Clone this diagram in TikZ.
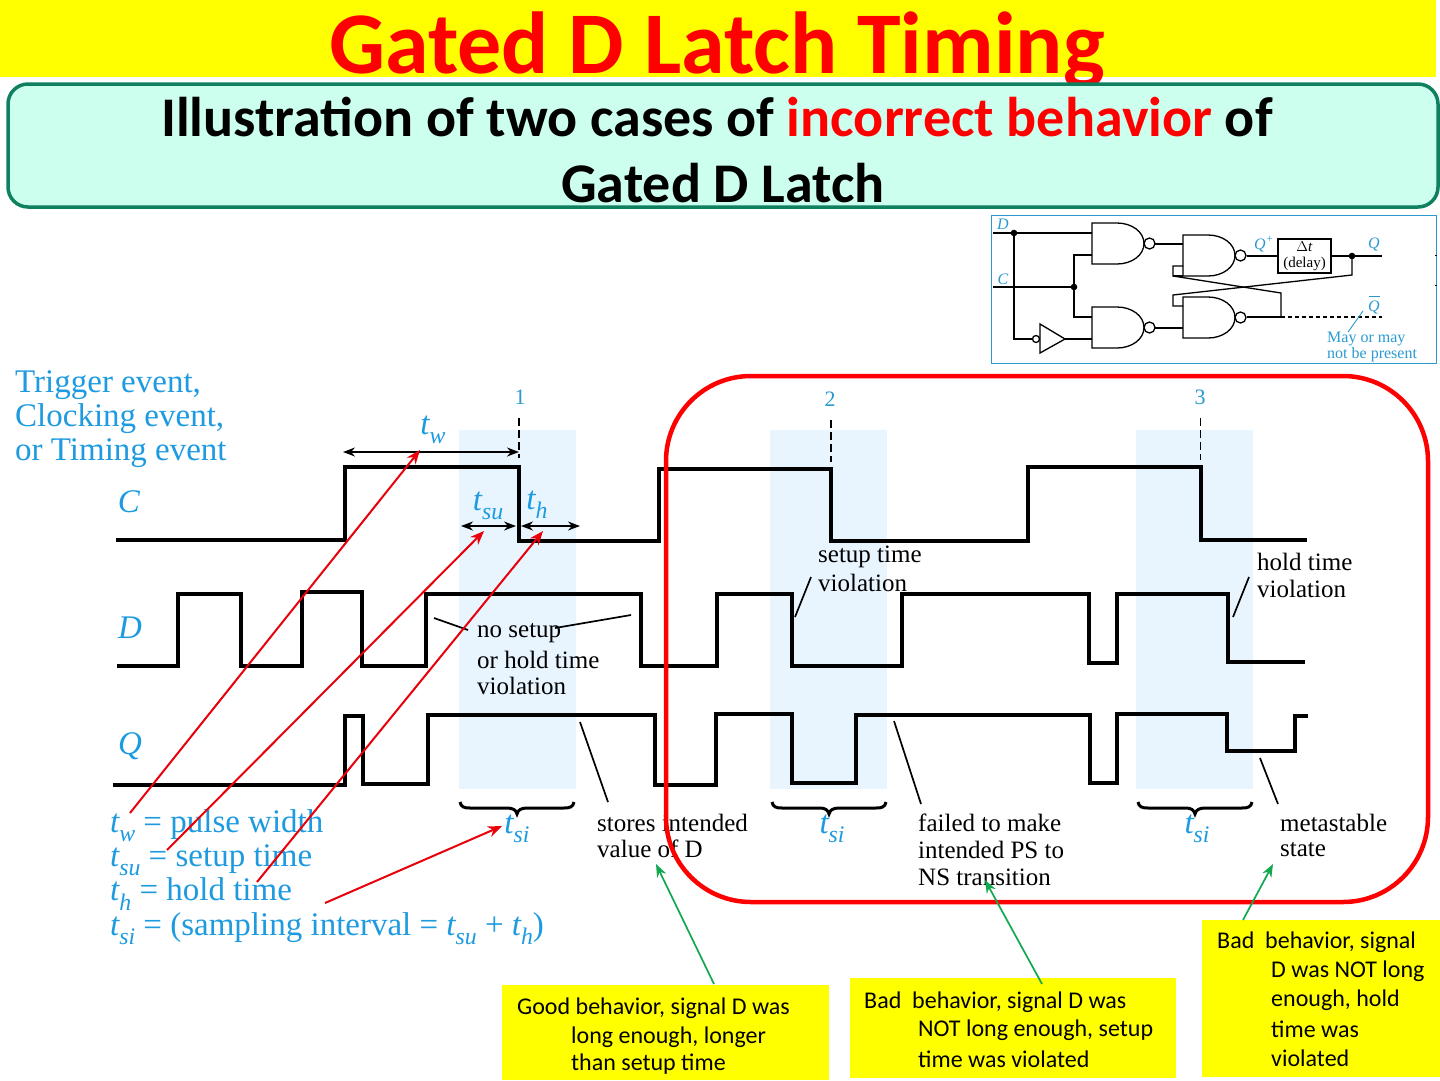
\documentclass[tikz,border=0pt]{standalone}
\usepackage{fontspec}
\setmainfont{Liberation Serif}
\newfontfamily\calib{Carlito}
\usetikzlibrary{arrows.meta}
\definecolor{bandblue}{HTML}{E8F4FE}
\definecolor{inkblue}{HTML}{1E9BE0}
\definecolor{circblue}{HTML}{2A9AD0}
\definecolor{mint}{HTML}{CCFFEE}
\definecolor{mintedge}{HTML}{0F8060}
\definecolor{redline}{HTML}{E8000B}
\definecolor{greenline}{HTML}{12A84F}
\definecolor{pureyellow}{RGB}{255,255,0}
\definecolor{purered}{RGB}{255,0,0}
\newcommand{\fs}[1]{\fontsize{#1}{#1}\selectfont}
\newcommand{\tvar}[1]{\textit{t}\kern-0.02em\raisebox{-0.28em}{\fontsize{0.72em}{0.72em}\selectfont\textit{#1}}}
\tikzset{
  x=1pt,y=-1pt,
  wave/.style={line width=3.4pt,line join=miter,black},
  band/.style={fill=bandblue,draw=none},
  leader/.style={line width=1.7pt,black},
  dimarrow/.style={line width=1.4pt,{Stealth[length=12pt,width=9pt]}-{Stealth[length=12pt,width=9pt]}},
  redarrow/.style={line width=2pt,redline,-{Stealth[length=14pt,width=11pt]}},
  greenarrow/.style={line width=1.7pt,greenline,-{Stealth[length=13pt,width=10pt]}},
  brace/.style={line width=3pt,black},
  blacktext/.style={anchor=west,inner sep=0pt,text=black,font=\fs{25}},
  bluetext/.style={anchor=west,inner sep=0pt,text=inkblue,font=\fs{33}},
  bluemid/.style={anchor=center,inner sep=0pt,text=inkblue,font=\fs{33}},
  numtext/.style={anchor=center,inner sep=0pt,text=circblue,font=\fs{22}},
  yellowbox/.style={fill=pureyellow,draw=none},
  notetext/.style={anchor=west,inner sep=0pt,text=black,font=\calib\fs{24}},
  circwire/.style={line width=1.3pt,black},
  circlabel/.style={inner sep=0pt,text=circblue,font=\fs{16}},
  nandg/.pic={
    \draw[circwire] (0,0)--(25,0) .. controls (40,0) and (52,9) .. (52,20.5) .. controls (52,32) and (40,41) .. (25,41) -- (0,41) -- cycle;
    \draw[circwire] (57.5,20.5) circle[radius=5.5pt];
  }
}
\begin{document}
\begin{tikzpicture}
\useasboundingbox (0,0) rectangle (1440,1080);
\fill[white] (0,0) rectangle (1440,1080);
% header
\fill[pureyellow] (0,0) rectangle (1436,77);
\node[anchor=center,inner sep=0pt,text=purered,font=\calib\bfseries\fs{88}] (title) at (717,50) {Gated D Latch Timing};
\draw[mintedge,line width=3.5pt,fill=mint,rounded corners=20pt] (8,84) rectangle (1438,207);
\node[anchor=center,inner sep=0pt,font=\calib\bfseries\fs{56}] (sub1) at (717,117) {Illustration of two cases of \textcolor{purered}{incorrect behavior} of};
\node[anchor=center,inner sep=0pt,font=\calib\bfseries\fs{56}] (sub2) at (723,183) {Gated D Latch};
% circuit
\draw[circblue,line width=0.9pt] (991,215) rectangle (1436,363);
\pic (g1) at (1092,223) {nandg};
\pic (g2) at (1183,235) {nandg};
\pic (g3) at (1092,307) {nandg};
\pic (g4) at (1183,297) {nandg};
\draw[circwire] (993,233)--(1092,233);
\draw[circwire] (1014,233)--(1014,339)--(1032.5,339);
\draw[circwire] (1036,339) circle[radius=3.5pt];
\draw[circwire] (1040,324)--(1065,339)--(1040,353)--cycle;
\draw[circwire] (1065,339)--(1092,339);
\draw[circwire] (993,287)--(1074,287);
\draw[circwire] (1092,255)--(1074,255)--(1074,317)--(1092,317);
\draw[circwire] (1155,244)--(1183,244);
\draw[circwire] (1155,328)--(1183,328);
\draw[circwire] (1247,256)--(1278,256);
\node[draw=black,line width=1.3pt,minimum width=53pt,minimum height=34pt,inner sep=0pt,align=center,font=\fs{15},anchor=center] (delay) at (1304.5,256) {$\Delta$\textit{t}\\[1pt](delay)};
\draw[circwire] (1331,256)--(1382,256);
\draw[circwire] (1352,256)--(1352,275)--(1173,295)--(1173,306)--(1183,306);
\draw[circwire] (1183,266)--(1173,266)--(1173,276)--(1281,293)--(1281,317);
\draw[circwire] (1173,276)--(1183,276);
\draw[circwire] (1247,317)--(1281,317);
\draw[circwire,dashed,dash pattern=on 4pt off 3pt] (1281,317)--(1382,317);
\fill (1014,233) circle[radius=3.3pt];
\fill (1074,287) circle[radius=3.3pt];
\fill (1352,256) circle[radius=3.3pt];
\draw[circblue,line width=0.9pt] (1363,311)--(1348,332);
\draw[black,line width=0.8pt] (1435,255)--(1437,255) (1435,285)--(1437,285);
\node[circlabel,font=\fs{16}\itshape] (cD) at (1003,224) {D};
\node[circlabel,font=\fs{16}\itshape] (cC) at (1003,279) {C};
\node[circlabel,font=\fs{16}\itshape] (cQp) at (1264,244) {Q\textsuperscript{+}};
\node[circlabel,font=\fs{16}\itshape] (cQ) at (1374,244) {Q};
\node[circlabel,font=\fs{16}\itshape] (cQb) at (1374,307) {Q};
\draw[circblue,line width=0.7pt] (1369,296)--(1380,296);
\node[circlabel,anchor=west] (may1) at (1327,339) {May or may};
\node[circlabel,anchor=west] (may2) at (1327,355) {not be present};
% bands
\fill[band] (459,430) rectangle (576,789);
\fill[band] (770,430) rectangle (887,789);
\fill[band] (1136,430) rectangle (1253,789);
% waves
\draw[wave] (116,540)-|(345,467)-|(519,541)-|(659,469)-|(831,541)-|(1028,467)-|(1201,540)--(1307,540);
\draw[wave] (117,666)-|(178,594)-|(241,666)-|(302,592)-|(362,666)-|(426,594)-|(641,666)-|(717,594)-|(792,666)-|(902,594)-|(1089,663)-|(1117,594)-|(1228,662)--(1305,662);
\draw[wave] (113,785)-|(345,716)-|(363,784)-|(428,715)-|(655,785)-|(716,714)-|(792,783)-|(856,715)-|(1090,783)-|(1117,714)-|(1227,751)-|(1295,716)--(1308,716);
% event labels
\node[bluetext] (ev1) at (15,385) {Trigger event,};
\node[bluetext] (ev2) at (15,419) {Clocking event,};
\node[bluetext] (ev3) at (15,453) {or Timing event};
\node[numtext] (n1) at (520,397) {1};
\node[numtext] (n2) at (830,399) {2};
\node[numtext] (n3) at (1200,397) {3};
\draw[black,line width=1.2pt,dashed,dash pattern=on 8pt off 4pt] (519,418)--(519,458);
\draw[black,line width=1.4pt,dashed,dash pattern=on 8pt off 4pt] (831,420)--(831,462);
\draw[black,line width=0.8pt,dashed,dash pattern=on 8pt off 4pt] (1200,418)--(1200,460);
\draw[dimarrow] (343,452)--(519,452);
\draw[dimarrow] (461,526)--(516,526);
\draw[dimarrow] (521,526)--(580,526);
\node[bluemid] (tw) at (433,430) {\tvar{w}};
\node[bluemid] (tsu) at (488,506) {\tvar{su}};
\node[bluemid] (th) at (537,505) {\tvar{h}};
\node[bluemid,font=\fs{33}\itshape] (lC) at (129,502) {C};
\node[bluemid,font=\fs{33}\itshape] (lD) at (130,628) {D};
\node[bluemid,font=\fs{33}\itshape] (lQ) at (130,746) {Q};
% comments
\node[blacktext] (c1a) at (477,633) {no setup};
\node[blacktext] (c1b) at (477,660) {or hold time};
\node[blacktext] (c1c) at (477,686) {violation};
\draw[leader] (434,618)--(468,630);
\draw[leader] (555,628)--(631,615);
\node[blacktext] (c2a) at (818,557) {setup time};
\node[blacktext] (c2b) at (818,583) {violation};
\draw[leader] (811,577)--(795,617);
\node[blacktext] (c3a) at (1257,562) {hold time};
\node[blacktext] (c3b) at (1257,589) {violation};
\draw[leader] (1249,577)--(1233,617);
\draw[leader] (580,722)--(608,802);
\draw[leader] (894,721)--(921,804);
\draw[leader] (1260,758)--(1278,804);
\node[blacktext] (c4a) at (597,823) {stores intended};
\node[blacktext] (c4b) at (597,849) {value of D};
\node[blacktext] (c5a) at (918,823) {failed to make};
\node[blacktext] (c5b) at (918,850) {intended PS to};
\node[blacktext] (c5c) at (918,877) {NS transition};
\node[blacktext] (c6a) at (1280,823) {metastable};
\node[blacktext] (c6b) at (1280,850) {state};
% braces
\draw[brace] (460,802) .. controls (461,807) and (464,808) .. (470,808) -- (507,808) .. controls (513,808) and (516,810) .. (517,814) .. controls (518,810) and (521,808) .. (527,808) -- (564,808) .. controls (570,808) and (573,807) .. (574,802);
\draw[brace] (772,802) .. controls (773,807) and (776,808) .. (782,808) -- (820,808) .. controls (825,808) and (828,810) .. (829,814) .. controls (830,810) and (833,808) .. (839,808) -- (876,808) .. controls (882,808) and (885,807) .. (886,802);
\draw[brace] (1138,802) .. controls (1139,807) and (1142,808) .. (1148,808) -- (1186,808) .. controls (1191,808) and (1194,810) .. (1195,814) .. controls (1196,810) and (1199,808) .. (1205,808) -- (1242,808) .. controls (1248,808) and (1251,807) .. (1252,802);
\node[bluemid] (si1) at (517,829) {\tvar{si}};
\node[bluemid] (si2) at (832,829) {\tvar{si}};
\node[bluemid] (si3) at (1197,829) {\tvar{si}};
% legend
\node[bluetext] (lg1) at (110,826) {\tvar{w} = pulse width};
\node[bluetext] (lg2) at (110,860) {\tvar{su} = setup time};
\node[bluetext] (lg3) at (110,894) {\tvar{h} = hold time};
\node[bluetext] (lg4) at (110,929) {\tvar{si} = (sampling interval = \tvar{su} + \tvar{h})};
% red frame
\draw[purered,line width=4.5pt,rounded corners=85pt] (666,376) rectangle (1428,902);
% yellow notes
\fill[yellowbox] (502,985) rectangle (829,1080);
\fill[yellowbox] (850,978) rectangle (1176,1078);
\fill[yellowbox] (1202,920) rectangle (1440,1077);
\node[notetext] (a1) at (517,1008) {Good behavior, signal D was};
\node[notetext] (a2) at (571,1037) {long enough, longer};
\node[notetext] (a3) at (571,1064) {than setup time};
\node[notetext] (b1) at (864,1002) {Bad\ \ behavior, signal D was};
\node[notetext] (b2) at (918,1030) {NOT long enough, setup};
\node[notetext] (b3) at (918,1059) {time was violated};
\node[notetext] (d1) at (1217,942) {Bad\ \ behavior, signal};
\node[notetext] (d2) at (1271,971) {D was NOT long};
\node[notetext] (d3) at (1271,1000) {enough, hold};
\node[notetext] (d4) at (1271,1029) {time was};
\node[notetext] (d5) at (1271,1058) {violated};
% arrows
\coordinate (rw) at (130,813); \coordinate (rwe) at (420,450);
\coordinate (rs) at (167,850); \coordinate (rse) at (484,531);
\coordinate (rh) at (257,882); \coordinate (rhe) at (543,531);
\coordinate (ri) at (325,903); \coordinate (rie) at (502,826);
\coordinate (g1s) at (714,984); \coordinate (g1e) at (656,864);
\coordinate (g2s) at (1042,984); \coordinate (g2e) at (985,880);
\coordinate (g3s) at (1243,920); \coordinate (g3e) at (1273,864);
\draw[redarrow] (rw)--(rwe);
\draw[redarrow] (rs)--(rse);
\draw[redarrow] (rh)--(rhe);
\draw[redarrow] (ri)--(rie);
\draw[greenarrow] (g1s)--(g1e);
\draw[greenarrow] (g2s)--(g2e);
\draw[greenarrow] (g3s)--(g3e);
\end{tikzpicture}
\end{document}
